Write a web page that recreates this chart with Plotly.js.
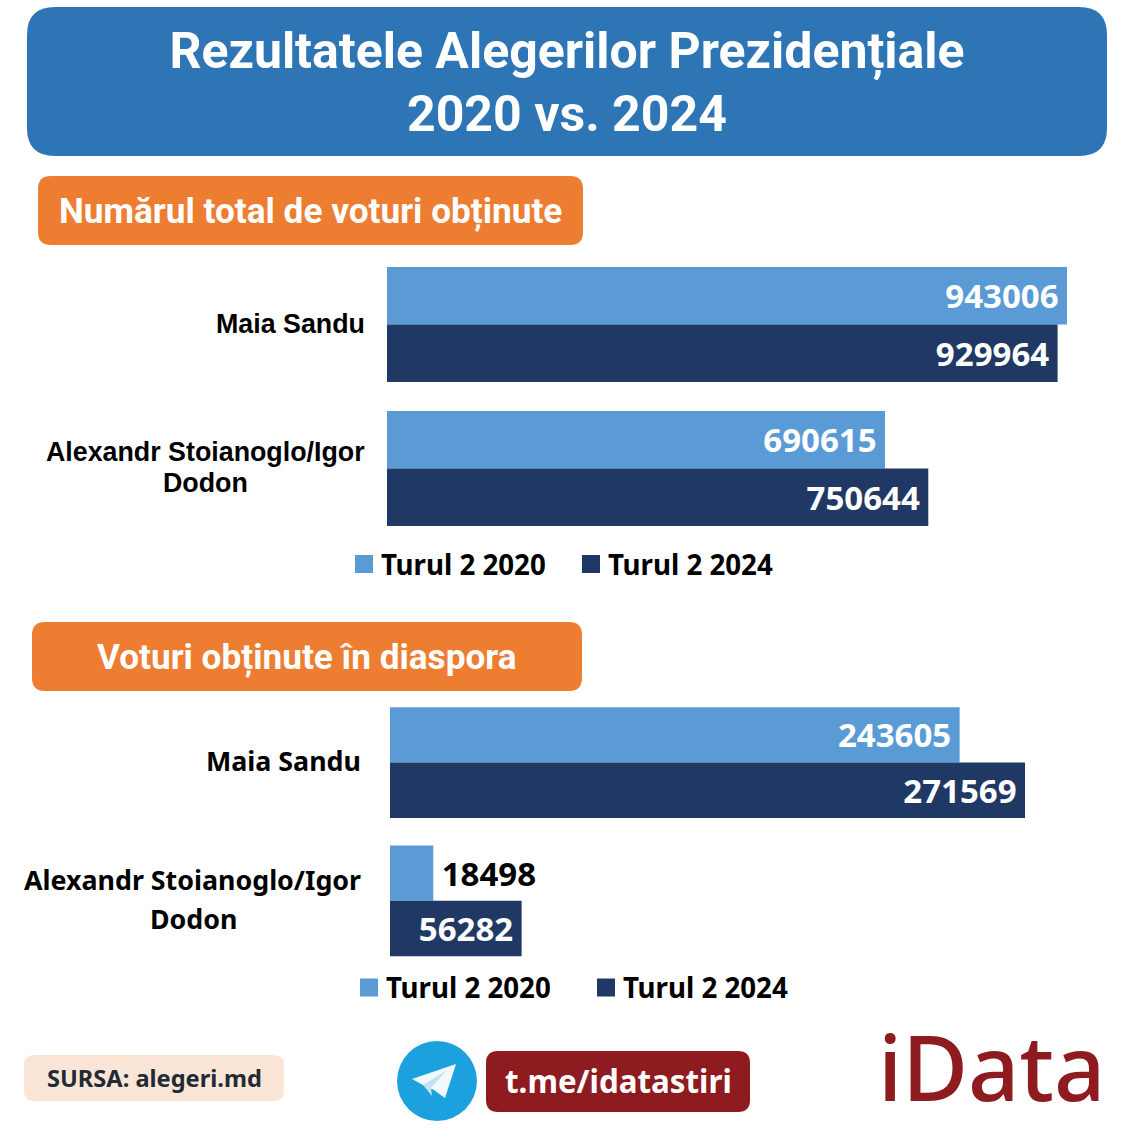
<!DOCTYPE html>
<html><head><meta charset="utf-8">
<script src="https://cdn.plot.ly/plotly-3.0.1.min.js"></script>
<style>html,body{margin:0;padding:0;background:#fff}</style></head><body><div id="chart" style="width:1134px;height:1134px"></div>
<script>
const candidates = ["Maia Sandu", "Alexandr Stoianoglo/Igor Dodon"];
const seriesNames = ["Turul 2 2020", "Turul 2 2024"];
const totalVotes2020 = [943006, 690615];
const totalVotes2024 = [929964, 750644];
const diasporaVotes2020 = [243605, 18498];
const diasporaVotes2024 = [271569, 56282];
const titleLine1 = "Rezultatele Alegerilor Prezidențiale";
const titleLine2 = "2020 vs. 2024";
const section1 = "Numărul total de voturi obținute";
const section2 = "Voturi obținute în diaspora";
const sourceText = "SURSA: alegeri.md";
const linkText = "t.me/idatastiri";
const logoText = "iData";
const LIGHT = "#5B9BD5", DARK = "#203864", S = 1134;
const FONT = "Noto Sans", HEAD = "Roboto";
const THIN = "\u2009";

const X = v => v / S, Y = v => 1 - v / S;
function rr(x0, y0, x1, y1, r, fill) {
  const p = (x, y) => X(x) + "," + Y(y);
  return {type:"path", xref:"paper", yref:"paper", layer:"below", fillcolor:fill, line:{width:0},
    path:`M${p(x0+r,y0)}L${p(x1-r,y0)}Q${p(x1,y0)} ${p(x1,y0+r)}L${p(x1,y1-r)}Q${p(x1,y1)} ${p(x1-r,y1)}L${p(x0+r,y1)}Q${p(x0,y1)} ${p(x0,y1-r)}L${p(x0,y0+r)}Q${p(x0,y0)} ${p(x0+r,y0)}Z`};
}
function poly(pts, fill) {
  return {type:"path", xref:"paper", yref:"paper", fillcolor:fill, line:{width:0},
    path:"M" + pts.map(q => X(q[0]) + "," + Y(q[1])).join("L") + "Z"};
}
function txt(t, x, y, size, color, anchor, family, weight) {
  return {text:t, xref:"paper", yref:"paper", x:X(x), y:Y(y), xanchor:anchor||"center", yanchor:"middle",
    showarrow:false, font:{family:family||FONT, size:size, color:color, weight:weight===undefined?700:weight}};
}
function barTrace(vals, name, color, xa, ya, legend, outsideIdx) {
  return {type:"bar", orientation:"h", name:name, x:vals, y:candidates, xaxis:xa, yaxis:ya, legend:legend,
    showlegend:true, marker:{color:color, line:{width:0}},
    text:vals.map((v,i)=> i===outsideIdx ? THIN+v : v+THIN),
    textposition:vals.map((v,i)=> i===outsideIdx ? "outside":"inside"),
    insidetextanchor:"end", textangle:0, constraintext:"none", cliponaxis:false,
    textfont:{family:FONT, size:33, weight:700, color:vals.map((v,i)=> i===outsideIdx ? "#000":"#fff")},
    hoverinfo:"x+y"};
}
const traces = [
  barTrace(totalVotes2020, seriesNames[0], LIGHT, "x", "y", "legend"),
  barTrace(totalVotes2024, seriesNames[1], DARK, "x", "y", "legend"),
  barTrace(diasporaVotes2020, seriesNames[0], LIGHT, "x2", "y2", "legend2", 1),
  barTrace(diasporaVotes2024, seriesNames[1], DARK, "x2", "y2", "legend2"),
];
function catLabels(yref, family, size, right, center, gap, dy) {
  const cut = candidates[1].lastIndexOf(" ");
  const first = candidates[1].slice(0, cut), second = candidates[1].slice(cut+1);
  const base = {xref:"paper", yref:yref, yanchor:"middle", showarrow:false, font:{family:family,size:size,color:"#000",weight:700}};
  return [
    {...base, text:candidates[0], x:X(right), xanchor:"right", y:candidates[0], yshift:dy},
    {...base, text:first, x:X(right), xanchor:"right", y:candidates[1], yshift:dy+gap/2},
    {...base, text:second, x:X(center), xanchor:"center", y:candidates[1], yshift:dy-gap/2},
  ];
}
const legendBase = {orientation:"h", xanchor:"left", yanchor:"middle", bgcolor:"rgba(0,0,0,0)",
  font:{family:FONT,size:27.7,color:"#000",weight:700}, entrywidthmode:"pixels", itemclick:false, itemdoubleclick:false, traceorder:"normal"};
const hiddenX = {showgrid:false, zeroline:false, showticklabels:false, ticks:"", showline:false, fixedrange:true};
const hiddenY = {...hiddenX, type:"category", autorange:"reversed"};
const layout = {
  width:S, height:S, margin:{l:0,r:0,t:0,b:0}, paper_bgcolor:"#fff", plot_bgcolor:"rgba(0,0,0,0)",
  barmode:"group", bargap:0.2, bargroupgap:0,
  title:{text:titleLine1, x:X(567), xanchor:"center", xref:"paper", y:Y(50), yref:"paper", yanchor:"middle",
    font:{family:HEAD,size:50,color:"#fff",weight:700}},
  xaxis:{...hiddenX, domain:[X(387),X(1108.1)], range:[0,1000000]},
  yaxis:{...hiddenY, domain:[Y(540.5),Y(252.5)]},
  xaxis2:{...hiddenX, domain:[X(390),X(1091.5)], range:[0,300000], anchor:"y2"},
  yaxis2:{...hiddenY, domain:[Y(970),Y(693.5)], anchor:"x2"},
  legend:{...legendBase, x:X(341), y:Y(564.5), entrywidth:182},
  legend2:{...legendBase, x:X(346), y:Y(988), entrywidth:192},
  shapes:[
    rr(27,7,1107,156,28,"#2E75B6"),
    rr(38,176,583,245,13,"#ED7D31"),
    rr(32,622,582,691,13,"#ED7D31"),
    rr(24,1055,284,1101,10,"#FBE5D6"),
    rr(486,1051,750,1112,12,"#8E1B1F"),
    {type:"circle", xref:"paper", yref:"paper", x0:X(397), x1:X(477), y0:Y(1121), y1:Y(1041), fillcolor:"#1DA1DE", line:{width:0}},
    poly([[412,1079],[456,1064],[445,1098],[434,1090],[423,1085]],"#F2F9FD"),
    poly([[423,1085],[447,1070],[431,1088],[432,1096]],"#C5E0F0"),
  ],
  annotations:[
    txt(titleLine2,567,114,50,"#fff","center",HEAD),
    txt(section1,310.5,210.5,35.2,"#fff","center",HEAD),
    txt(section2,306,656.5,35.2,"#fff","center",HEAD),
    ...catLabels("y","Liberation Sans",26.8,367,205.5,31,1),
    ...catLabels("y2",FONT,26.8,362.5,193,39,2),
    txt(sourceText,154,1078,23.6,"#222A35"),
    txt(linkText,618.5,1081,31.3,"#fff"),
    txt(logoText,992,1066,90,"#8E1B1F","center",FONT,500),
  ],
};
Plotly.newPlot("chart", traces, layout, {staticPlot:true, displayModeBar:false}).then(() => {
  document.querySelectorAll("#chart .traces path").forEach(p => p.setAttribute("d", "M12,9H-6V-9H12Z"));
});
</script></body></html>
